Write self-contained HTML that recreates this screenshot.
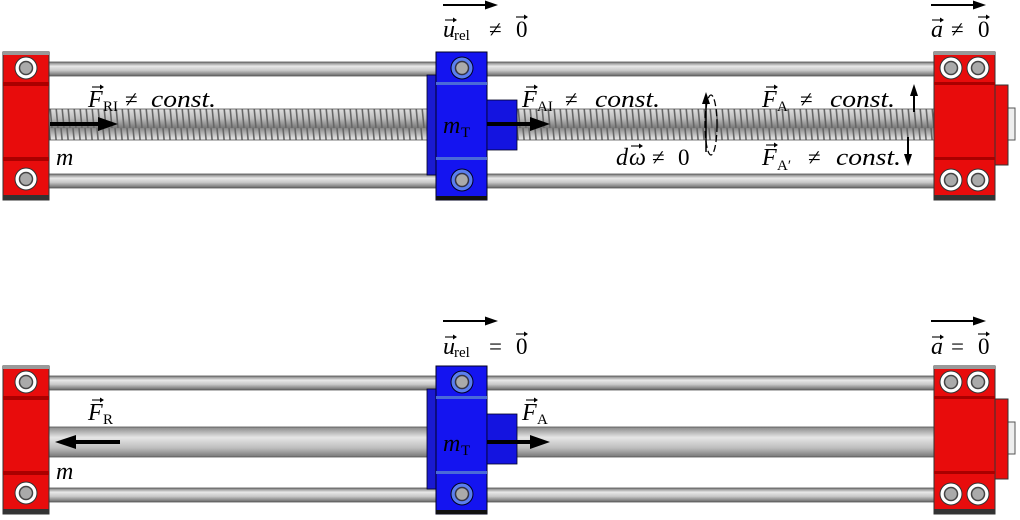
<!DOCTYPE html>
<html><head><meta charset="utf-8"><style>
html,body{margin:0;padding:0;background:#fff;width:1020px;height:520px;overflow:hidden}
svg{display:block}
svg text{font-family:"Liberation Serif","DejaVu Serif",serif;fill:#000}
.i{font-style:italic;font-size:24px}
.r{font-size:23px}
.s{font-size:15px}
</style></head><body>
<svg width="1020" height="520" viewBox="0 0 1020 520" xmlns="http://www.w3.org/2000/svg" font-family="Liberation Serif, DejaVu Serif, serif">
<defs>
<linearGradient id="rod" x1="0" y1="0" x2="0" y2="1">
<stop offset="0" stop-color="#777"/><stop offset="0.3" stop-color="#e8e8e8"/><stop offset="0.6" stop-color="#c8c8c8"/><stop offset="1" stop-color="#666"/>
</linearGradient>
<linearGradient id="shaft" x1="0" y1="0" x2="0" y2="1">
<stop offset="0" stop-color="#888"/><stop offset="0.35" stop-color="#e6e6e6"/><stop offset="0.7" stop-color="#bdbdbd"/><stop offset="1" stop-color="#777"/>
</linearGradient>
<pattern id="thread" x="0" y="0" width="6" height="32" patternUnits="userSpaceOnUse">
<rect width="6" height="32" fill="url(#shaft)"/>
<line x1="1" y1="0" x2="4" y2="32" stroke="#666" stroke-width="1.6"/>
</pattern>
<g id="rods">
<rect x="48" y="62" width="888" height="14" fill="url(#rod)" stroke="#555" stroke-width="0.8"/>
<rect x="48" y="174" width="888" height="14" fill="url(#rod)" stroke="#555" stroke-width="0.8"/>
</g>
<g id="leftblock">
<rect x="3" y="52" width="46" height="148" fill="#e80c0c" stroke="#333" stroke-width="1"/>
<rect x="3" y="52" width="46" height="3" fill="#999"/>
<rect x="3" y="195" width="46" height="5" fill="#333"/>
<rect x="3" y="82" width="46" height="4" fill="#a00"/>
<rect x="3" y="157" width="46" height="4" fill="#a00"/>
<circle cx="26" cy="68" r="11" fill="#fff" stroke="#333"/><circle cx="26" cy="68" r="6.5" fill="#aaa" stroke="#444" stroke-width="1.5"/>
<circle cx="26" cy="179" r="11" fill="#fff" stroke="#333"/><circle cx="26" cy="179" r="6.5" fill="#aaa" stroke="#444" stroke-width="1.5"/>
</g>
<g id="blue">
<rect x="427" y="75" width="10" height="100" fill="#1a1ad0" stroke="#002" stroke-width="0.8"/>
<rect x="436" y="52" width="51" height="148" fill="#1414f0" stroke="#002" stroke-width="1"/>
<rect x="436" y="82" width="51" height="3" fill="#4a6ad8"/>
<rect x="436" y="157" width="51" height="3" fill="#4a6ad8"/>
<rect x="436" y="196" width="51" height="4" fill="#111"/>
<rect x="487" y="100" width="30" height="50" fill="#1414e0" stroke="#002" stroke-width="0.8"/>
<circle cx="462" cy="68" r="11" fill="#5a7ef0" stroke="#002"/><circle cx="462" cy="68" r="6.5" fill="#aaa" stroke="#334" stroke-width="1.5"/>
<circle cx="462" cy="180" r="11" fill="#5a7ef0" stroke="#002"/><circle cx="462" cy="180" r="6.5" fill="#aaa" stroke="#334" stroke-width="1.5"/>
</g>
<g id="rightblock">
<rect x="1007" y="108" width="8" height="32" fill="#eee" stroke="#555"/>
<rect x="994" y="85" width="14" height="80" fill="#e80c0c" stroke="#333"/>
<rect x="934" y="52" width="61" height="148" fill="#e80c0c" stroke="#333" stroke-width="1"/>
<rect x="934" y="52" width="61" height="3" fill="#999"/>
<rect x="934" y="195" width="61" height="5" fill="#333"/>
<rect x="934" y="82" width="61" height="3" fill="#a00"/>
<rect x="934" y="157" width="61" height="3" fill="#a00"/>
<circle cx="951" cy="68" r="11" fill="#fff" stroke="#333"/><circle cx="951" cy="68" r="6.5" fill="#aaa" stroke="#444" stroke-width="1.5"/>
<circle cx="978" cy="68" r="11" fill="#fff" stroke="#333"/><circle cx="978" cy="68" r="6.5" fill="#aaa" stroke="#444" stroke-width="1.5"/>
<circle cx="951" cy="180" r="11" fill="#fff" stroke="#333"/><circle cx="951" cy="180" r="6.5" fill="#aaa" stroke="#444" stroke-width="1.5"/>
<circle cx="978" cy="180" r="11" fill="#fff" stroke="#333"/><circle cx="978" cy="180" r="6.5" fill="#aaa" stroke="#444" stroke-width="1.5"/>
</g>
<g id="va"><line x1="0" y1="0" x2="9" y2="0" stroke="#000" stroke-width="1.1"/><path d="M8,-2.5 L12,0 L8,2.5 z" fill="#000"/></g>
<g id="topar"><line x1="0" y1="0" x2="44" y2="0" stroke="#000" stroke-width="2"/><path d="M42,-4.5 L55,0 L42,4.5 z" fill="#000"/></g>
</defs>

<!-- TOP -->
<use href="#rods"/>
<rect x="48" y="109" width="888" height="31" fill="url(#thread)" stroke="#555" stroke-width="0.8"/>
<use href="#leftblock"/>
<use href="#blue"/>
<use href="#rightblock"/>
<line x1="50" y1="124" x2="100" y2="124" stroke="#000" stroke-width="4"/><path d="M98,117 L118,124 L98,131 z"/>
<line x1="487" y1="124" x2="532" y2="124" stroke="#000" stroke-width="4"/><path d="M530,117 L550,124 L530,131 z"/>
<use href="#topar" x="443" y="5"/>
<use href="#topar" x="931" y="5"/>

<text class="i" x="443" y="37">u</text><use href="#va" x="445" y="20"/>
<text class="s" x="454" y="40">rel</text>
<text class="r" x="489" y="37">≠</text>
<text class="r" x="516" y="37">0</text><use href="#va" x="516" y="17"/>

<text class="i" x="931" y="37">a</text><use href="#va" x="932" y="20"/>
<text class="r" x="951" y="37">≠</text>
<text class="r" x="978" y="37">0</text><use href="#va" x="978" y="17"/>

<text class="i" x="88" y="107">F</text><use href="#va" x="92" y="87"/>
<text class="s" x="103" y="111">RI</text>
<text class="r" x="125" y="107">≠</text>
<text class="i" x="151" y="107" textLength="65" lengthAdjust="spacingAndGlyphs">const.</text>

<text class="i" x="522" y="107">F</text><use href="#va" x="526" y="87"/>
<text class="s" x="537" y="111">AI</text>
<text class="r" x="565" y="107">≠</text>
<text class="i" x="595" y="107" textLength="65" lengthAdjust="spacingAndGlyphs">const.</text>

<text class="i" x="762" y="107">F</text><use href="#va" x="766" y="87"/>
<text class="s" x="777" y="111">A</text>
<text class="r" x="800" y="107">≠</text>
<text class="i" x="830" y="107" textLength="65" lengthAdjust="spacingAndGlyphs">const.</text>

<text class="i" x="762" y="165">F</text><use href="#va" x="766" y="145"/>
<text class="s" x="777" y="170">A′</text>
<text class="r" x="808" y="165">≠</text>
<text class="i" x="836" y="165" textLength="65" lengthAdjust="spacingAndGlyphs">const.</text>

<text class="i" x="616" y="165">d</text><text class="i" x="629" y="165">ω</text><use href="#va" x="631" y="146"/>
<text class="r" x="652" y="165">≠</text>
<text class="r" x="678" y="165">0</text>

<text class="i" x="56" y="165">m</text>
<text class="i" x="443" y="133">m</text><text class="s" x="461" y="137">T</text>

<ellipse cx="711" cy="125" rx="6" ry="30" fill="none" stroke="#000" stroke-width="1.3" stroke-dasharray="7,3"/>
<line x1="706" y1="152" x2="706" y2="102" stroke="#000" stroke-width="1.5"/><path d="M702,104 L706,92 L710,104 z"/>
<line x1="914" y1="112" x2="914" y2="94" stroke="#000" stroke-width="2"/><path d="M910,96 L914,84 L918,96 z"/>
<line x1="908" y1="137" x2="908" y2="156" stroke="#000" stroke-width="2"/><path d="M904,154 L908,166 L912,154 z"/>

<!-- BOTTOM -->
<g transform="translate(0,314)">
<use href="#rods"/>
<rect x="48" y="113" width="888" height="30" fill="url(#shaft)" stroke="#555" stroke-width="0.8"/>
<use href="#leftblock"/>
<use href="#blue"/>
<use href="#rightblock"/>
<line x1="120" y1="128" x2="74" y2="128" stroke="#000" stroke-width="4"/><path d="M76,121 L55,128 L76,135 z"/>
<line x1="487" y1="128" x2="532" y2="128" stroke="#000" stroke-width="4"/><path d="M530,121 L550,128 L530,135 z"/>
<use href="#topar" x="443" y="7"/>
<use href="#topar" x="931" y="7"/>

<text class="i" x="443" y="40">u</text><use href="#va" x="445" y="23"/>
<text class="s" x="454" y="43">rel</text>
<text class="r" x="489" y="40">=</text>
<text class="r" x="516" y="40">0</text><use href="#va" x="516" y="20"/>

<text class="i" x="931" y="40">a</text><use href="#va" x="932" y="23"/>
<text class="r" x="951" y="40">=</text>
<text class="r" x="978" y="40">0</text><use href="#va" x="978" y="20"/>

<text class="i" x="88" y="106">F</text><use href="#va" x="92" y="86"/>
<text class="s" x="103" y="110">R</text>
<text class="i" x="522" y="106">F</text><use href="#va" x="526" y="86"/>
<text class="s" x="537" y="110">A</text>
<text class="i" x="56" y="165">m</text>
<text class="i" x="443" y="137">m</text><text class="s" x="461" y="141">T</text>
</g>
</svg>
</body></html>
